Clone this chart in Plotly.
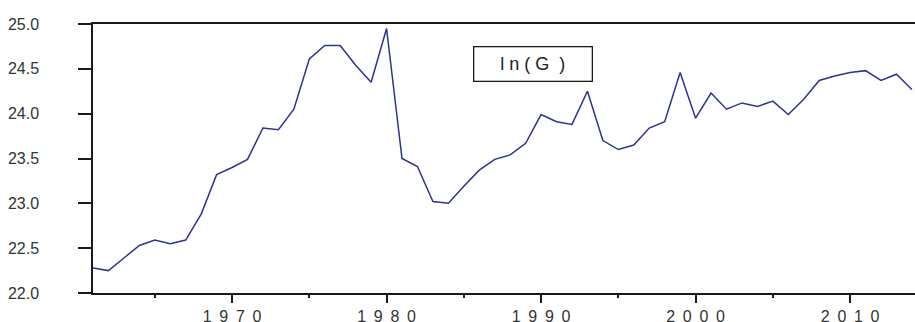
import plotly.graph_objects as go

years = list(range(1961, 2015))
ln_g = [22.28, 22.25, 22.39, 22.53, 22.59, 22.55, 22.59, 22.88, 23.32, 23.40,
        23.49, 23.84, 23.82, 24.05, 24.61, 24.76, 24.76, 24.54, 24.35, 24.95,
        23.50, 23.41, 23.02, 23.00, 23.19, 23.37, 23.49, 23.54, 23.67, 23.99,
        23.91, 23.88, 24.25, 23.70, 23.60, 23.65, 23.84, 23.91, 24.46, 23.95,
        24.23, 24.05, 24.12, 24.08, 24.14, 23.99, 24.16, 24.37, 24.42, 24.46,
        24.48, 24.37, 24.44, 24.27]

x_tick_vals = [1970, 1980, 1990, 2000, 2010]
x_tick_text = ["\u00a0\u2009".join(str(v)) for v in x_tick_vals]
y_tick_vals = [22.0, 22.5, 23.0, 23.5, 24.0, 24.5, 25.0]
y_tick_text = ["22.0", "22.5", "23.0", "23.5", "24.0", "24.5", "25.0"]
legend_label = "l\u00a0n\u00a0(\u00a0G\u00a0\u00a0)"

fig = go.Figure()
fig.add_trace(go.Scatter(x=years, y=ln_g, mode="lines",
                         line=dict(color="#2b3494", width=1.5),
                         showlegend=False, hoverinfo="skip"))

axis_color = "#1a1a1a"
fig.update_xaxes(range=[1961, 2014.2], showgrid=False, zeroline=False, automargin=False,
                 showline=True, linecolor=axis_color, linewidth=1.5, mirror=True,
                 ticks="outside", ticklen=8, tickwidth=1.5, tickcolor=axis_color,
                 tickvals=x_tick_vals, ticktext=x_tick_text,
                 tickfont=dict(family="Liberation Sans, Arial", size=16, color="#333333"),
                 minor=dict(tickvals=[1965, 1975, 1985, 1995, 2005], ticks="outside",
                            ticklen=3, tickwidth=1.5, tickcolor=axis_color),
                 ticklabelstandoff=0)
fig.update_yaxes(range=[22.0, 25.0], showgrid=False, zeroline=False, automargin=False,
                 showline=True, linecolor=axis_color, linewidth=1.5, mirror=False,
                 ticks="outside", ticklen=13, tickwidth=1.5, tickcolor=axis_color,
                 tickvals=y_tick_vals, ticktext=y_tick_text,
                 tickfont=dict(family="Liberation Sans, Arial", size=16, color="#333333"),
                 ticklabelstandoff=36)

fig.add_annotation(x=1989.5, y=24.55, xref="x", yref="y", text=legend_label,
                   showarrow=False, font=dict(family="Liberation Sans, Arial", size=18, color="#222222"),
                   bordercolor=axis_color, borderwidth=1.3, borderpad=0,
                   width=117, height=33, bgcolor="white")

fig.update_layout(width=915, height=322, margin=dict(l=93, r=0, t=24, b=29),
                  plot_bgcolor="white", paper_bgcolor="white")

fig.write_html("out.html", config={"displayModeBar": False},
               post_script="document.body.style.margin='0';document.body.style.overflow='hidden';")
